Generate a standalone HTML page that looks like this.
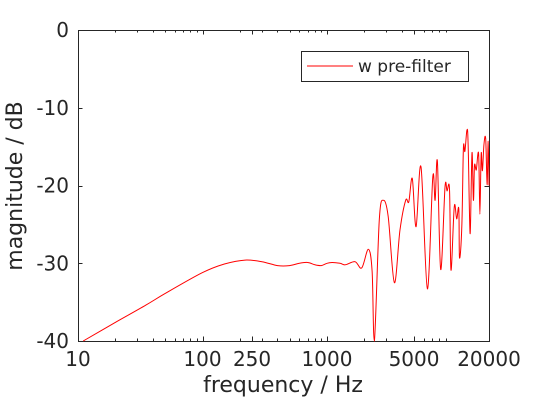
<!DOCTYPE html>
<html><head><meta charset="utf-8"><style>
body{margin:0;background:#fff}
svg text{font-family:"DejaVu Sans","Liberation Sans",sans-serif;fill:#262626}
</style></head><body>
<svg id="chart" width="540" height="404" viewBox="0 0 540 404">
<rect x="0" y="0" width="540" height="404" fill="#fff"/>
<g id="axes"></g>
<path id="series" fill="none" stroke="#ff0000" stroke-width="1" stroke-linejoin="round"/>
<g>
<rect x="301.5" y="51.5" width="167" height="30" fill="#fff" stroke="#262626" stroke-width="1"/>
<line x1="307" y1="66" x2="353" y2="66" stroke="#ff0000" stroke-width="1"/>
<text x="358" y="72" font-size="17">w pre-filter</text>
</g>
<text x="283" y="392" font-size="22" text-anchor="middle">frequency / Hz</text>
<text transform="translate(22,186) rotate(-90)" font-size="22" text-anchor="middle">magnitude / dB</text>
</svg>
<script>
const freqs=[11,20,35,50,100,150,220,300,400,500,600,700,800,900,1000,1100,1271,1400,1680,1901,2148,2300,2400,2630,2834,3100,3475,3857,4285,4535,4840,5190,5690,6400,7070,7380,7700,8190,8870,9200,9640,9900,10520,11000,11440,11600,12100,12450,12800,13300,13600,14100,14600,15000,15300,15800,16500,16900,17300,17700,18200,18800,19300,19700,20000];
const magsDb=[-40,-37.6,-35.4,-33.9,-31.2,-30.1,-29.6,-29.8,-30.3,-30.3,-30,-29.9,-30.2,-30.3,-30,-29.9,-30.0,-30.2,-29.8,-30.6,-28.2,-31,-40,-24.4,-21.9,-24,-32.5,-25.7,-21.9,-22.1,-19.1,-25.3,-17.6,-33.3,-18.9,-21.9,-16.9,-30.8,-20.2,-20.7,-20.5,-30.9,-22.7,-24.3,-23,-29.3,-25.3,-15.2,-15.6,-12.9,-14.6,-26.2,-15.8,-21.9,-17.4,-18,-15.9,-23.7,-15.9,-18.1,-14.8,-14,-19.9,-14.3,-20];
const xTickVals=[10,100,250,1000,5000,20000];
const xTickLabels=["10","100","250","1000","5000","20000"];
const yTickVals=[0,-10,-20,-30,-40];
const yTickLabels=["0","-10","-20","-30","-40"];
const L=78,R=489,T=30,B=341,xMin=10,xMax=20000,yMin=-40,yMax=0;
const NS="http://www.w3.org/2000/svg";
function xs(f){return L+(Math.log10(f)-Math.log10(xMin))/(Math.log10(xMax)-Math.log10(xMin))*(R-L);}
function ys(v){return B-(v-yMin)/(yMax-yMin)*(B-T);}
const ax=document.getElementById('axes');
function mk(tag,attrs){const e=document.createElementNS(NS,tag);for(const k in attrs)e.setAttribute(k,attrs[k]);ax.appendChild(e);return e;}
const frame=mk('rect',{x:L+.5,y:T+.5,width:R-L,height:B-T,fill:'none',stroke:'#262626','stroke-width':1});


for(let d=10;d<=10000;d*=10){for(let m=2;m<=9;m++){const f=d*m;if(f>xMax)break;const x=Math.round(xs(f))+.5;
const t1=mk('line',{x1:x,y1:B,x2:x,y2:B-2.5,stroke:'#262626'});


const t2=mk('line',{x1:x,y1:T,x2:x,y2:T+2.5,stroke:'#262626'});

}}
xTickVals.forEach((v,i)=>{const x=Math.round(xs(v))+.5;
const t=mk('line',{x1:x,y1:B,x2:x,y2:B-4.5,stroke:'#262626'});


const t2=mk('line',{x1:x,y1:T,x2:x,y2:T+4.5,stroke:'#262626'});


const lb=mk('text',{x:xs(v),y:B+25,'font-size':20,'text-anchor':'middle'});lb.textContent=xTickLabels[i];

});
yTickVals.forEach((v,i)=>{const y=Math.round(ys(v))+.5;
const t=mk('line',{x1:L,y1:y,x2:L+4.5,y2:y,stroke:'#262626'});


const t2=mk('line',{x1:R,y1:y,x2:R-4.5,y2:y,stroke:'#262626'});


const lb=mk('text',{x:L-9,y:ys(v)+7,'font-size':20,'text-anchor':'end'});lb.textContent=yTickLabels[i];

});
const P=freqs.map((f,i)=>[xs(f),ys(Math.max(magsDb[i],yMin))]);
let d='M'+P[0][0].toFixed(1)+' '+P[0][1].toFixed(1);
for(let i=0;i<P.length-1;i++){const p0=P[Math.max(i-1,0)],p1=P[i],p2=P[i+1],p3=P[Math.min(i+2,P.length-1)];
let c1y=p1[1]+(p2[1]-p0[1])/6,c2y=p2[1]-(p3[1]-p1[1])/6;
c1y=Math.min(c1y,B);c2y=Math.min(c2y,B);
d+='C'+(p1[0]+(p2[0]-p0[0])/6).toFixed(1)+' '+c1y.toFixed(1)+' '+(p2[0]-(p3[0]-p1[0])/6).toFixed(1)+' '+c2y.toFixed(1)+' '+p2[0].toFixed(1)+' '+p2[1].toFixed(1);}
document.getElementById('series').setAttribute('d',d);
</script>
</body></html>
